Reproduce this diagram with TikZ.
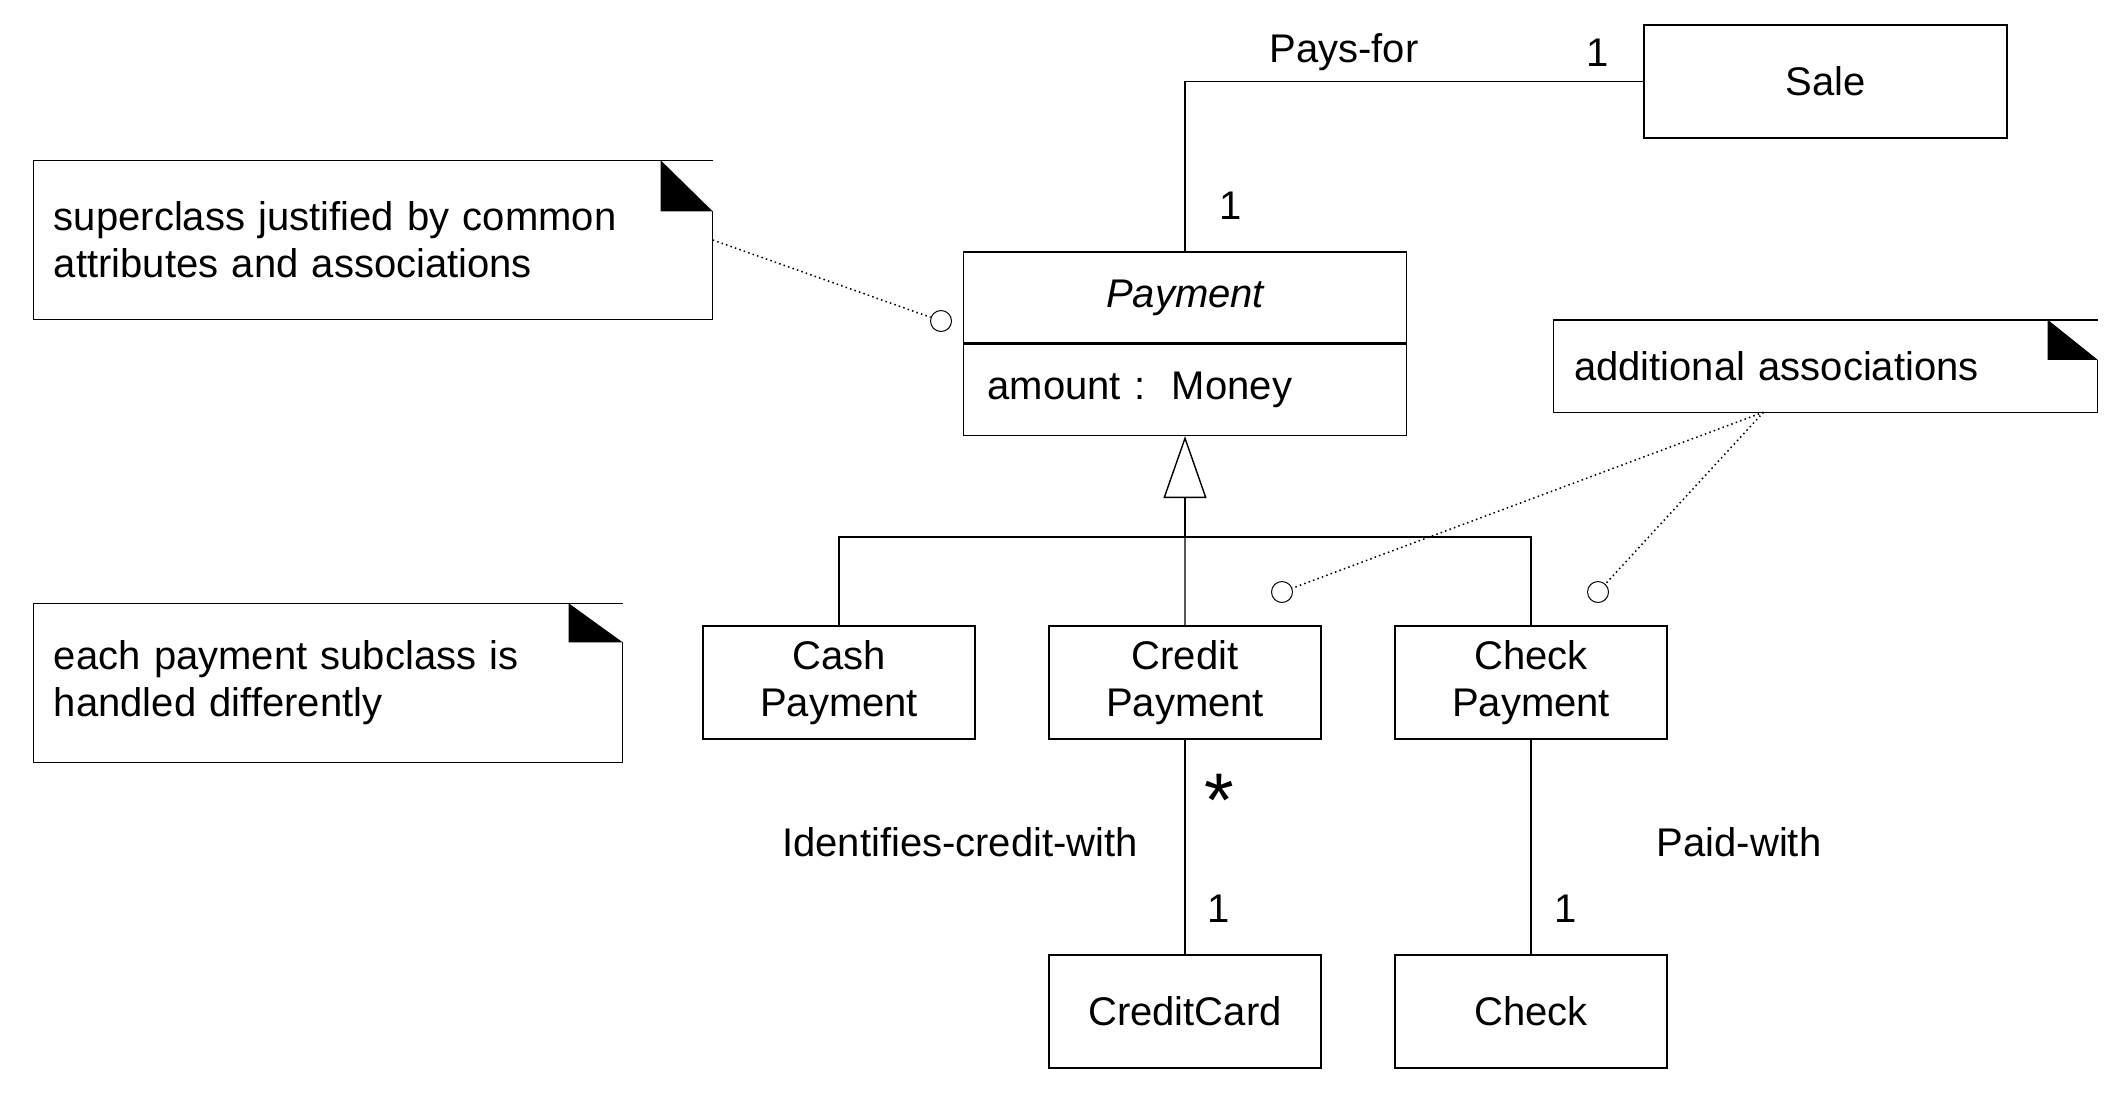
\documentclass[tikz,border=0pt]{standalone}
\usepackage{fontspec}
\setmainfont{Liberation Sans}
\usetikzlibrary{arrows.meta,positioning}

\newcommand{\umlfont}{\fontsize{20pt}{23.6pt}\selectfont}
\newcommand{\noteframe}[3]{%
  \draw (#1.north east) ++(0pt,-#3) -- (#1.south east) -- (#1.south west)
    -- (#1.north west) -- (#1.north east);
  \fill (#1.north east) ++(-#2,0pt) -- ++(#2,-#3) -- ++(-#2,0pt) -- cycle;}

\begin{document}
\begin{tikzpicture}[x=0.5pt,y=-0.5pt,line width=0.7pt,font=\umlfont,
      class node/.style={draw,minimum width=136pt,minimum height=56.5pt,inner sep=0pt,align=center},
      note node/.style={inner xsep=10pt,inner ysep=0pt,align=left},
      anchor node/.style={circle,draw,line width=0.5pt,minimum size=10.5pt,inner sep=0pt},
      label node/.style={inner sep=0pt,anchor=base},
      note link/.style={line width=0.75pt,dash pattern=on 0.75pt off 1.6pt}]

      \useasboundingbox (0,0) rectangle (2115,1094);

      \node[class node,minimum width=181.5pt] (sale) at (1825.5,81.5) {Sale};
      \node[class node,minimum width=221.5pt,minimum height=45.5pt,font=\umlfont\itshape] (pay) at (1185,297.5) {Payment};
      \node[class node,minimum width=221.5pt,minimum height=45.5pt,inner xsep=12pt,text width=197.5pt,
        align=left,anchor=north] (payattr) at (pay.south) {amount :\ \ Money};

      \node[class node] (cash) at (839,682.5) {Cash\\Payment};
      \node[class node,right=36.3pt of cash] (credit) {Credit\\Payment};
      \node[class node,right=36.3pt of credit] (checkpay) {Check\\Payment};
      \node[class node,below=107.3pt of credit] (card) {CreditCard};
      \node[class node,below=107.3pt of checkpay] (check) {Check};

      \node[note node,text width=319pt,minimum height=79pt] (supnote) at (373,240)
        {superclass justified by common\\attributes and associations};
      \node[note node,text width=251.5pt,minimum height=45.5pt] (addnote) at (1825.5,366)
        {additional associations};
      \node[note node,text width=274pt,minimum height=79pt] (subnote) at (328,683)
        {each payment subclass is\\handled differently};
      \noteframe{supnote}{26pt}{25.5pt}
      \noteframe{addnote}{25pt}{20pt}
      \noteframe{subnote}{27pt}{19.5pt}

      \node[anchor node] (supdot) at (941,321) {};
      \node[anchor node] (creditdot) at (1282,592) {};
      \node[anchor node] (checkdot) at (1598,592) {};

      \coordinate (gen) at (1185,537);
      \draw (pay.north) |- (sale.west);
      \draw[-{Triangle[open,length=31pt,width=21.5pt]}] (gen) -- (payattr.south);
      \draw (cash.north) |- (gen) -| (checkpay.north);
      \draw (credit.north) -- (gen);
      \draw (credit) -- (card);
      \draw (checkpay) -- (check);

      \draw[note link] (supnote.east) -- (supdot);
      \draw[note link] ([xshift=-31pt]addnote.south) -- (creditdot);
      \draw[note link] ([xshift=-31pt]addnote.south) -- (checkdot);

      \node[label node] (paysfor) at (1344,62) {Pays-for};
      \node[label node] (salemult) at (1598,66) {1};
      \node[label node] (paymult) at (1231,219) {1};
      \node[label node,font=\fontsize{38pt}{40pt}\selectfont] (creditmult) at (1219,826) {*};
      \node[label node] (idwith) at (960,856) {Identifies-credit-with};
      \node[label node] (cardmult) at (1219,922) {1};
      \node[label node] (paidwith) at (1739,856) {Paid-with};
      \node[label node] (checkmult) at (1566,922) {1};
    \end{tikzpicture}
\end{document}
